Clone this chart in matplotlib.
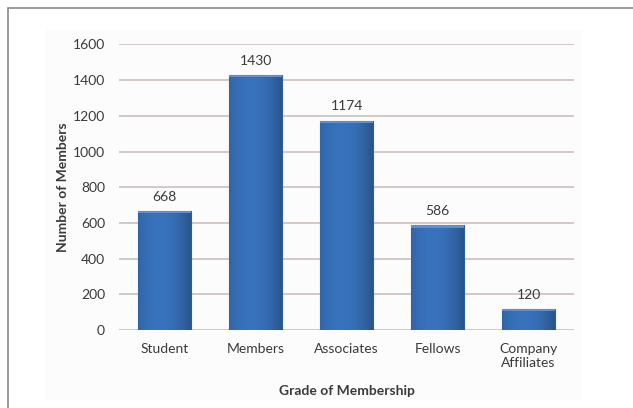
import matplotlib.pyplot as plt
import numpy as np
from matplotlib.patches import Rectangle

plt.rcParams['font.family'] = ['Lato', 'DejaVu Sans']

# 数据
grades = ['Student', 'Members', 'Associates', 'Fellows', 'Company\nAffiliates']
members = [668, 1430, 1174, 586, 120]
yticks = [0, 200, 400, 600, 800, 1000, 1200, 1400, 1600]

text_color = '#3a3a3a'

fig = plt.figure(figsize=(6.33, 4.08), dpi=100)
# 外框
fig.patches.append(Rectangle((8 / 633, -0.1), 1.2, 1 - 8 / 408 + 0.1, transform=fig.transFigure,
                             fill=False, edgecolor='#8a8a8a', linewidth=1.2, zorder=-2))
# 图表区浅灰底
fig.patches.append(Rectangle((45 / 633, 8 / 408), 537 / 633, 370 / 408, transform=fig.transFigure,
                             facecolor='#fdfcfc', edgecolor='none', zorder=-2))

ax = fig.add_axes([0.188, 0.191, 0.719, 0.700])
ax.patch.set_alpha(0)
x = np.arange(len(grades))
bars = ax.bar(x, members, width=0.58, color='#3a72b9', edgecolor='#2e5d9c', linewidth=0.8, zorder=3)

# 柱子渐变效果
grad = np.linspace(0, 1, 64)
shade = 1 - 0.18 * (2 * grad - 0.8) ** 2
cols = np.zeros((1, 64, 3))
cols[0, :, 0] = 0.22 * shade
cols[0, :, 1] = 0.45 * shade
cols[0, :, 2] = 0.74 * shade
for b in bars:
    x0, y0 = b.get_x(), b.get_y()
    w, h = b.get_width(), b.get_height()
    im = ax.imshow(np.clip(cols, 0, 1), extent=[x0, x0 + w, y0, y0 + h], aspect='auto', zorder=3.5)
    im.set_clip_path(b)
    # 顶部高光
    ax.add_patch(Rectangle((x0, y0 + h - 12), w, 12, facecolor='#5f8fcf', edgecolor='none', zorder=3.6))

for a, b in zip(x, members):
    ax.text(a, b + 45, str(b), ha='center', va='bottom', fontsize=10, color=text_color)

ax.set_xlim(-0.5, len(grades) - 0.5)
ax.set_ylim(0, 1600)
ax.set_yticks(yticks)
ax.set_xticks(x)
ax.set_xticklabels(grades, fontsize=10, color=text_color, linespacing=1.2)
ax.tick_params(axis='y', labelsize=10, labelcolor=text_color, length=0, pad=10)
ax.tick_params(axis='x', length=0, pad=9)
ax.grid(axis='y', color='#cbbfbc', linewidth=1.2, zorder=0)
for s in ax.spines.values():
    s.set_visible(False)

ax.set_xlabel('Grade of Membership', fontsize=10, fontweight='bold', color=text_color, labelpad=12)
ax.set_ylabel('Number of Members', fontsize=10, fontweight='bold', color=text_color, labelpad=3)

fig.savefig('out.png', dpi=100)
